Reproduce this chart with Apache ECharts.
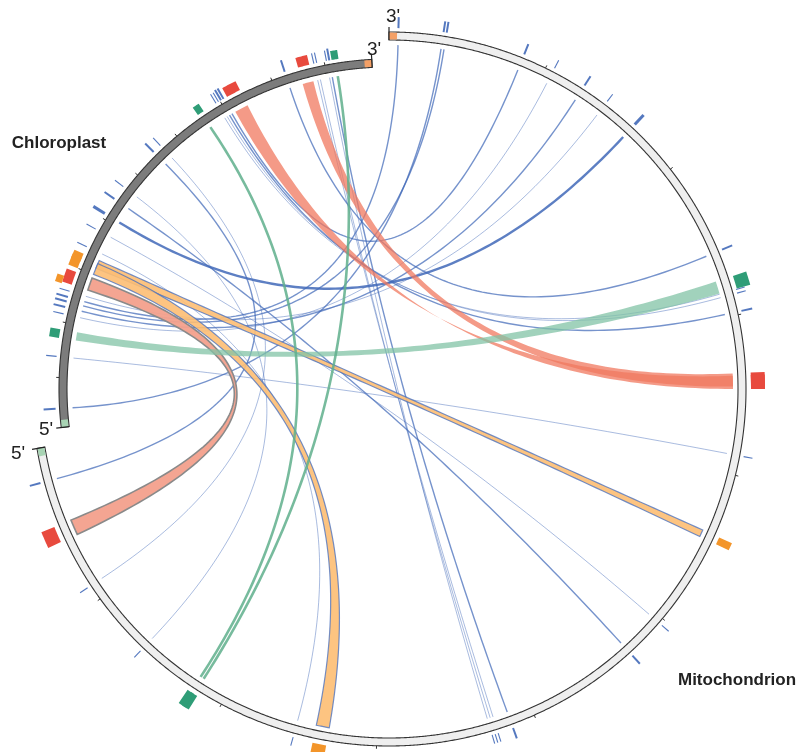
<!DOCTYPE html>
<html><head><meta charset="utf-8">
<script src="https://cdn.jsdelivr.net/npm/echarts@6/dist/echarts.min.js"></script>
<style>html,body{margin:0;padding:0;background:#fff}#c{width:797px;height:752px}</style>
</head><body><div id="c"></div>
<script>
// ---- DATA (positions in degrees, clockwise from top) ----
const chloroSpan = [263.3, 357.0];
const mitoSpan = [0.0, 260.4];
const chloroTicks = [272.0, 281.6, 291.2, 300.8, 310.4, 320.0, 329.6, 339.2, 348.8];
const mitoTicks = [26, 52, 78, 104, 130, 156, 182, 208, 234];
// blue links: [chloroplast position, mitochondrion position, weight]
const blueLinks = [
  [341.8, 67.3, 2],
  [347.0, 162.4, 1],
  [347.5, 162.9, 1],
  [349.2, 163.4, 1],
  [349.7, 159.9, 2],
  [328.8, 74.0, 1],
  [329.3, 74.6, 1],
  [329.8, 77.5, 2],
  [330.3, 22.0, 2],
  [316.8, 236.6, 1],
  [315.2, 254.9, 2],
  [307.3, 223.5, 1],
  [304.7, 137.6, 2],
  [301.7, 42.9, 3],
  [298.6, 130.9, 1],
  [287.0, 37.2, 1],
  [284.2, 32.8, 2],
  [283.0, 27.3, 1],
  [286.0, 1.5, 2],
  [285.2, 9.2, 2],
  [266.6, 8.7, 2],
  [275.6, 100.8, 1],
  [295.2, 195.4, 1]
];
// ribbons: [chloro start, chloro end, mito start, mito end]
const redRibbons = [[344.2, 346.2, 87.4, 89.6], [331.0, 333.5, 90.0, 87.8]];
const redOutlinedRibbons = [[288.2, 290.5, 245.0, 247.6]];
const orangeRibbons = [[292.4, 293.9, 114.2, 115.4], [291.2, 293.3, 190.0, 192.2]];
const greenRibbons = [[278.8, 280.3, 71.8, 73.9]];
// green single links: [chloroplast position, mitochondrion position]
const greenLinks = [[350.7, 212.6], [325.7, 213.2]];
// extra gene box on chloroplast (second track)
const extraChloroBoxes = [[287.9, 289.2]];

// ---- STYLE ----
const RAD = {chIn: 322, chOut: 330, mIn: 349, mOut: 357, chLink: 317, mLink: 344};
const BLUE = '#4169b8';

function arc(api, r, a1, a2) {
  const n = Math.max(2, Math.ceil(Math.abs(a2 - a1) / 0.2));
  const p = [];
  for (let i = 0; i <= n; i++) p.push(api.coord([r, a1 + (a2 - a1) * i / n]));
  return p;
}
function quad(p0, c, p1) {
  const n = 90, out = [];
  for (let i = 0; i <= n; i++) {
    const t = i / n, u = 1 - t;
    out.push([u*u*p0[0] + 2*u*t*c[0] + t*t*p1[0], u*u*p0[1] + 2*u*t*c[1] + t*t*p1[1]]);
  }
  return out;
}
function ribbonPts(api, a1, a2, b1, b2) {
  const c = api.coord([0, 0]);
  const A = arc(api, RAD.chLink, a1, a2);
  const B = arc(api, RAD.mLink, b1, b2);
  return A.concat(quad(A[A.length-1], c, B[0]).slice(1, -1), B, quad(B[B.length-1], c, A[0]).slice(1, -1));
}
function linePts(api, a, b) {
  const c = api.coord([0, 0]);
  return quad(api.coord([RAD.chLink, a]), c, api.coord([RAD.mLink, b]));
}
function band(api, r1, r2, a1, a2) {
  return arc(api, r1, a1, a2).concat(arc(api, r2, a2, a1));
}
const blueW = {1: 0.9, 2: 1.4, 3: 2.4};
const blueO = {1: 0.5, 2: 0.72, 3: 0.85};

function ribbonSeries(arr, fill, stroke, lw, z) {
  return {
    type: 'custom', coordinateSystem: 'polar', z: z, silent: true,
    data: arr.map((d, i) => [i]),
    renderItem: (params, api) => {
      const d = arr[params.dataIndex];
      return {type: 'polygon', shape: {points: ribbonPts(api, d[0], d[1], d[2], d[3])},
        style: {fill: fill, stroke: stroke || null, lineWidth: lw || 0}};
    }
  };
}

const series = [
  // blue links
  {
    type: 'custom', coordinateSystem: 'polar', z: 1, silent: true,
    data: blueLinks.map((d, i) => [i]),
    renderItem: (params, api) => {
      const d = blueLinks[params.dataIndex];
      return {type: 'polyline', shape: {points: linePts(api, d[0], d[1])},
        style: {fill: null, stroke: BLUE, lineWidth: blueW[d[2]], opacity: blueO[d[2]]}};
    }
  },
  ribbonSeries(orangeRibbons, 'rgba(253,190,115,0.9)', 'rgba(70,110,190,0.75)', 1.2, 2),
  ribbonSeries(redRibbons, 'rgba(240,120,95,0.75)', null, 0, 3),
  ribbonSeries(redOutlinedRibbons, 'rgba(243,160,140,0.95)', '#8a8a8a', 1.6, 3),
  ribbonSeries(greenRibbons, 'rgba(130,195,165,0.75)', null, 0, 3),
  // green links
  {
    type: 'custom', coordinateSystem: 'polar', z: 3, silent: true,
    data: greenLinks.map((d, i) => [i]),
    renderItem: (params, api) => {
      const d = greenLinks[params.dataIndex];
      return {type: 'polyline', shape: {points: linePts(api, d[0], d[1])},
        style: {fill: null, stroke: 'rgba(95,175,140,0.85)', lineWidth: 2.6}};
    }
  },
  // rings
  {
    type: 'custom', coordinateSystem: 'polar', z: 5, silent: true,
    data: [[0], [1]],
    renderItem: (params, api) => {
      const isM = params.dataIndex === 0;
      const s = isM ? mitoSpan : chloroSpan;
      const r1 = isM ? RAD.mIn : RAD.chIn, r2 = isM ? RAD.mOut : RAD.chOut;
      const fill = isM ? '#efefef' : '#7c7c7c';
      const ch = [
        {type: 'polygon', shape: {points: band(api, r1, r2, s[0], s[1])}, style: {fill: fill, stroke: '#333', lineWidth: 1.1}},
        {type: 'polygon', shape: {points: band(api, r1 + 0.6, r2 - 0.6, isM ? s[0] : s[1] - 1.3, isM ? s[0] + 1.3 : s[1])}, style: {fill: '#f4a066'}},
        {type: 'polygon', shape: {points: band(api, r1 + 0.6, r2 - 0.6, isM ? s[1] - 1.3 : s[0], isM ? s[1] : s[0] + 1.3)}, style: {fill: '#a8d4b4'}}
      ];
      [s[0], s[1]].forEach(a => {
        ch.push({type: 'polyline', shape: {points: [api.coord([r1, a]), api.coord([r2 + 5, a])]}, style: {stroke: '#222', lineWidth: 1.2, fill: null}});
      });
      return {type: 'group', children: ch};
    }
  },
  // ring scale ticks
  {
    type: 'custom', coordinateSystem: 'polar', z: 6, silent: true,
    data: mitoTicks.map(v => [1, v]).concat(chloroTicks.map(v => [0, v])),
    renderItem: (params, api) => {
      const isM = api.value(0) === 1;
      const a = api.value(1);
      const r = isM ? RAD.mOut : RAD.chOut;
      return {type: 'polyline', shape: {points: [api.coord([r, a]), api.coord([r + 3, a])]}, style: {stroke: '#333', lineWidth: 1, fill: null}};
    }
  },
  // gene marks outside the rings
  {
    type: 'custom', coordinateSystem: 'polar', z: 6, silent: true,
    data: [[0]],
    renderItem: (params, api) => {
      const ch = [];
      blueLinks.forEach(d => {
        const w = {1: 1.1, 2: 2.0, 3: 3.0}[d[2]];
        ch.push({type: 'polyline', shape: {points: [api.coord([334, d[0]]), api.coord([343 + d[2] * 1.5, d[0]])]}, style: {stroke: BLUE, lineWidth: w, opacity: 0.9, fill: null}});
        ch.push({type: 'polyline', shape: {points: [api.coord([361, d[1]]), api.coord([368 + d[2] * 2, d[1]])]}, style: {stroke: BLUE, lineWidth: w, opacity: 0.9, fill: null}});
      });
      const box = (arr, col) => arr.forEach(d => {
        ch.push({type: 'polygon', shape: {points: band(api, 334, 344, Math.min(d[0], d[1]), Math.max(d[0], d[1]))}, style: {fill: col}});
        ch.push({type: 'polygon', shape: {points: band(api, 362, 376, Math.min(d[2], d[3]), Math.max(d[2], d[3]))}, style: {fill: col}});
      });
      box(redRibbons, '#e84a3e');
      box(redOutlinedRibbons, '#e84a3e');
      box(orangeRibbons, '#f3952a');
      box(greenRibbons, '#2f9d77');
      greenLinks.forEach(d => {
        ch.push({type: 'polygon', shape: {points: band(api, 334, 343, d[0] - 0.6, d[0] + 0.6)}, style: {fill: '#2f9d77'}});
        ch.push({type: 'polygon', shape: {points: band(api, 362, 378, d[1] - 0.6, d[1] + 0.6)}, style: {fill: '#2f9d77'}});
      });
      extraChloroBoxes.forEach(d => {
        ch.push({type: 'polygon', shape: {points: band(api, 344, 351, d[0], d[1])}, style: {fill: '#f3952a'}});
      });
      return {type: 'group', children: ch};
    }
  }
];

const txt = (x, y, t, font) => ({type: 'text', x: x, y: y, style: {text: t, font: font, fill: '#222', align: 'center', verticalAlign: 'middle', textAlign: 'center', textVerticalAlign: 'middle'}});
const option = {
  animation: false,
  backgroundColor: '#fff',
  polar: {center: [389, 389], radius: [0, 357]},
  angleAxis: {type: 'value', min: 0, max: 360, startAngle: 90, clockwise: true, show: false},
  radiusAxis: {type: 'value', min: 0, max: 357, show: false},
  series: series,
  graphic: [
    txt(59, 143, 'Chloroplast', 'bold 17px "Liberation Sans", Arial, sans-serif'),
    txt(737, 680, 'Mitochondrion', 'bold 17px "Liberation Sans", Arial, sans-serif'),
    txt(393, 17, "3'", '19px "Liberation Sans", Arial, sans-serif'),
    txt(374, 50, "3'", '19px "Liberation Sans", Arial, sans-serif'),
    txt(46, 430, "5'", '19px "Liberation Sans", Arial, sans-serif'),
    txt(18, 454, "5'", '19px "Liberation Sans", Arial, sans-serif')
  ]
};
const chart = echarts.init(document.getElementById('c'));
chart.setOption(option);
</script>
</body></html>
